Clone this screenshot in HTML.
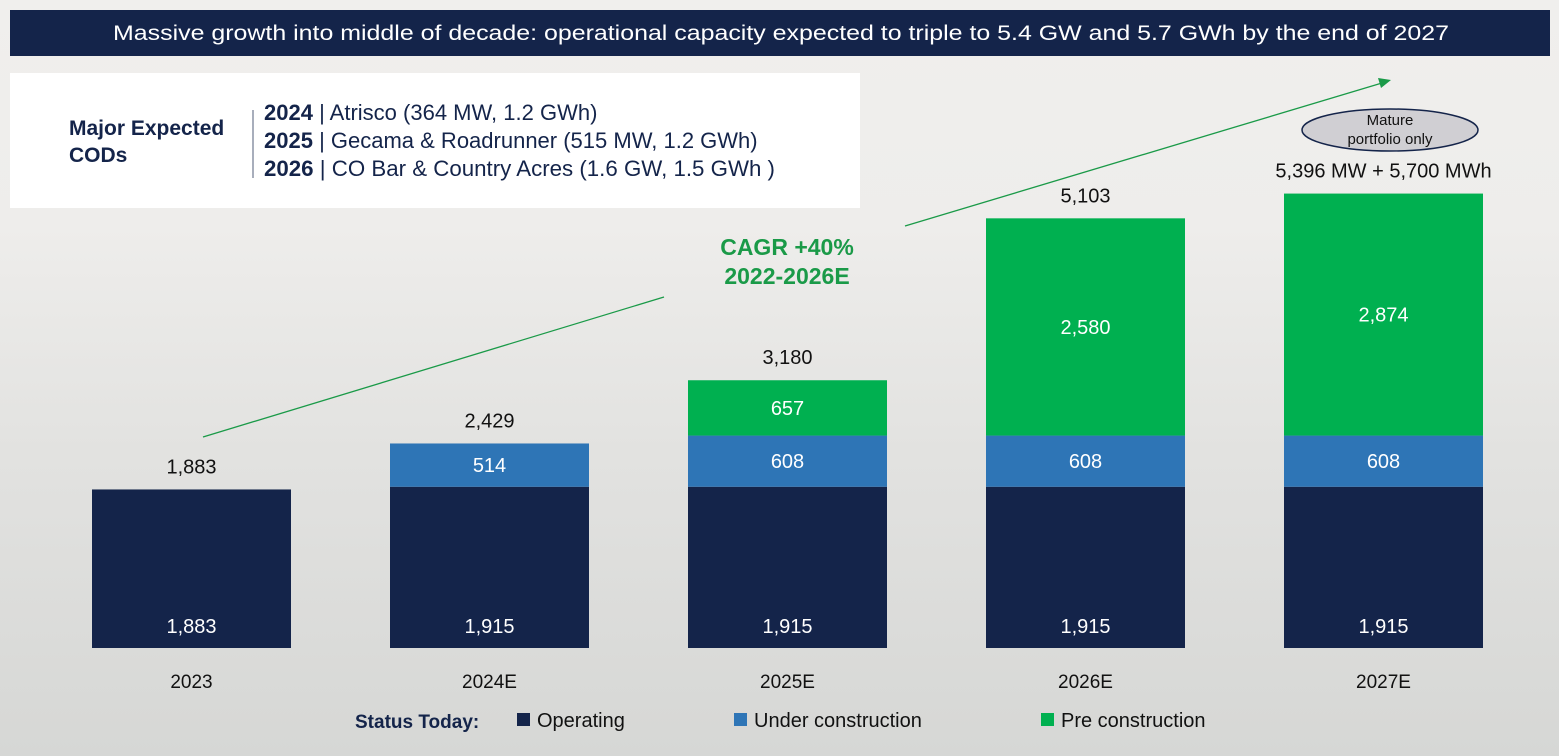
<!DOCTYPE html>
<html><head><meta charset="utf-8"><style>
body{margin:0;width:1559px;height:756px;overflow:hidden;font-family:"Liberation Sans",Roboto,sans-serif;}
#bg{position:absolute;left:0;top:0;width:1559px;height:756px;background:linear-gradient(#f0efed 0%,#eeedeb 30%,#e2e2e0 60%,#d6d7d5 100%);}
</style></head><body>
<div id="bg"></div>
<svg width="1559" height="756" style="position:absolute;left:0;top:0" id="chart">
<rect x="10" y="10" width="1540" height="46" fill="#14244a"/>
<text x="781" y="40" text-anchor="middle" fill="#fff" font-size="21" textLength="1336" lengthAdjust="spacingAndGlyphs">Massive growth into middle of decade: operational capacity expected to triple to 5.4 GW and 5.7 GWh by the end of 2027</text>
<rect x="10" y="73" width="850" height="135" fill="#fff"/>
<text x="69" y="135" font-size="21" font-weight="bold" fill="#14244a">Major Expected</text>
<text x="69" y="162" font-size="21" font-weight="bold" fill="#14244a">CODs</text>
<line x1="253" y1="110" x2="253" y2="178" stroke="#8a93a6" stroke-width="1.5"/>
<g font-size="22" fill="#14244a">
<text x="264" y="120"><tspan font-weight="bold">2024</tspan> | Atrisco (364 MW, 1.2 GWh)</text>
<text x="264" y="148"><tspan font-weight="bold">2025</tspan> | Gecama &amp; Roadrunner (515 MW, 1.2 GWh)</text>
<text x="264" y="176" textLength="511" lengthAdjust="spacingAndGlyphs"><tspan font-weight="bold">2026</tspan> | CO Bar &amp; Country Acres (1.6 GW, 1.5 GWh )</text>
</g>
<line x1="203" y1="437" x2="664" y2="297" stroke="#1a9a48" stroke-width="1.3"/>
<line x1="905" y1="226" x2="1382" y2="83" stroke="#1a9a48" stroke-width="1.3"/>
<polygon points="1391,80 1378,78 1381,88" fill="#1a9a48"/>
<text x="787" y="255" text-anchor="middle" font-size="23" font-weight="bold" fill="#1a9a48">CAGR +40%</text>
<text x="787" y="284" text-anchor="middle" font-size="23" font-weight="bold" fill="#1a9a48">2022-2026E</text>
<ellipse cx="1390" cy="130" rx="88" ry="21" fill="#d0cfd3" stroke="#14244a" stroke-width="1.5"/>
<text x="1390" y="125" text-anchor="middle" font-size="15" fill="#111">Mature</text>
<text x="1390" y="144" text-anchor="middle" font-size="15" fill="#111">portfolio only</text>
<g id="bars"></g>
<g font-size="20" fill="#111">
<text x="355" y="728" font-weight="bold" fill="#14244a" font-size="19">Status Today:</text>
<rect x="517" y="713" width="13" height="13" fill="#14244a"/><text x="537" y="727">Operating</text>
<rect x="734" y="713" width="13" height="13" fill="#2e75b6"/><text x="754" y="727">Under construction</text>
<rect x="1041" y="713" width="13" height="13" fill="#00b050"/><text x="1061" y="727">Pre construction</text>
</g>
</svg>
<script>
const categories=["2023","2024E","2025E","2026E","2027E"];
const operating=[1883,1915,1915,1915,1915];
const underConstruction=[0,514,608,608,608];
const preConstruction=[0,0,657,2580,2874];
const totalLabels=["1,883","2,429","3,180","5,103","5,396 MW + 5,700 MWh"];
const base=648, k=0.0842;
const y=v=>base-v*k;
const xc=i=>191.5+i*298;
const g=document.getElementById('bars');
const NS="http://www.w3.org/2000/svg";
function mk(t,a){const e=document.createElementNS(NS,t);for(const n in a)e.setAttribute(n,a[n]);g.appendChild(e);return e;}
const fmt=v=>v.toLocaleString('en-US');
const series=[[operating,"#14244a","operating"],[underConstruction,"#2e75b6","under-construction"],[preConstruction,"#00b050","pre-construction"]];
categories.forEach((c,i)=>{
  let cum=0;
  series.forEach(([arr,col,nm])=>{
    const v=arr[i]; if(!v)return;
    const r=mk('rect',{x:xc(i)-99.5,y:y(cum+v),width:199,height:v*k,fill:col});
    
    
    const ty=nm==="operating"?y(0)-15:y(cum+v/2)+7;
    const t=mk('text',{x:xc(i),y:ty,'text-anchor':'middle','font-size':20,fill:'#fff'});
    t.textContent=fmt(v);
    
    
    cum+=v;
  });
  const tt=mk('text',{x:xc(i),y:y(cum)-16,'text-anchor':'middle','font-size':20,fill:'#111'});
  tt.textContent=totalLabels[i];
  
  
  const xl=mk('text',{x:xc(i),y:688,'text-anchor':'middle','font-size':19,fill:'#111'});
  xl.textContent=c;
  
  
});
</script>
</body></html>
